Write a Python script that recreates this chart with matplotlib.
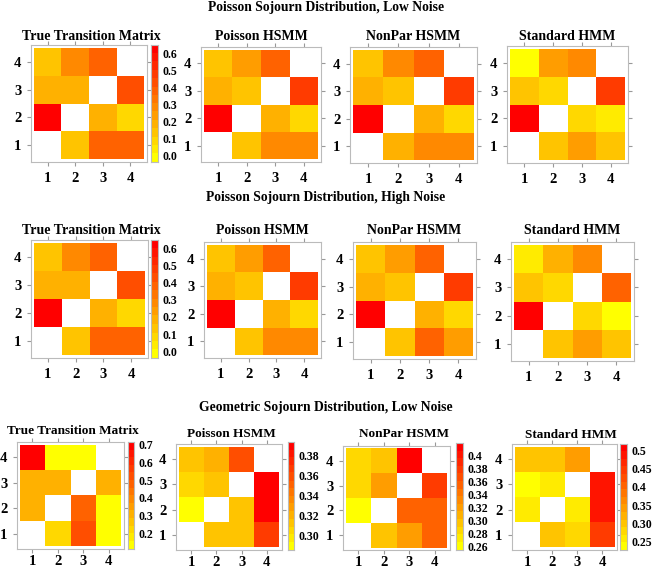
import numpy as np
import matplotlib
matplotlib.use("Agg")
import matplotlib.pyplot as plt
from matplotlib.colors import LinearSegmentedColormap, Normalize

plt.rcParams['font.family'] = ['Liberation Serif', 'DejaVu Serif']
plt.rcParams['font.weight'] = 'bold'

nan = np.nan
states = [1, 2, 3, 4]

# matrices: row index = y state (1..4 bottom to top), column = x state
true_pois = [[nan, 0.15, 0.36, 0.36],
             [0.61, nan, 0.20, 0.07],
             [0.19, 0.19, nan, 0.44],
             [0.13, 0.26, 0.39, nan]]
pois_low = [[nan, 0.12, 0.27, 0.27],
            [0.61, nan, 0.17, 0.06],
            [0.17, 0.11, nan, 0.48],
            [0.13, 0.22, 0.36, nan]]
nonpar_low = [[nan, 0.18, 0.27, 0.27],
              [0.63, nan, 0.18, 0.06],
              [0.18, 0.11, nan, 0.46],
              [0.13, 0.27, 0.36, nan]]
hmm_low = [[nan, 0.13, 0.25, 0.13],
           [0.63, nan, 0.06, 0.01],
           [0.11, 0.06, nan, 0.46],
           [0.00, 0.24, 0.27, nan]]
pois_high = [[nan, 0.12, 0.27, 0.27],
             [0.63, nan, 0.18, 0.06],
             [0.18, 0.11, nan, 0.48],
             [0.12, 0.22, 0.36, nan]]
nonpar_high = [[nan, 0.12, 0.36, 0.22],
               [0.63, nan, 0.18, 0.06],
               [0.18, 0.11, nan, 0.46],
               [0.13, 0.22, 0.36, nan]]
hmm_high = [[nan, 0.12, 0.25, 0.13],
            [0.63, nan, 0.06, 0.00],
            [0.13, 0.06, nan, 0.36],
            [0.01, 0.20, 0.27, nan]]
true_geom = [[nan, 0.23, 0.52, 0.15],
             [0.31, nan, 0.46, 0.15],
             [0.31, 0.31, nan, 0.31],
             [0.68, 0.15, 0.15, nan]]
pois_geom = [[nan, 0.310, 0.313, 0.366],
             [0.292, nan, 0.313, 0.390],
             [0.302, 0.313, nan, 0.390],
             [0.310, 0.319, 0.360, nan]]
nonpar_geom = [[nan, 0.291, 0.324, 0.350],
               [0.265, nan, 0.350, 0.360],
               [0.282, 0.317, nan, 0.380],
               [0.280, 0.296, 0.410, nan]]
hmm_geom = [[nan, 0.292, 0.280, 0.440],
            [0.260, nan, 0.252, 0.490],
            [0.248, 0.257, nan, 0.494],
            [0.300, 0.309, 0.338, nan]]

row_titles = ["Poisson Sojourn Distribution, Low Noise",
              "Poisson Sojourn Distribution, High Noise",
              "Geometric Sojourn Distribution, Low Noise"]
panel_titles = ["True Transition Matrix", "Poisson HSMM", "NonPar HSMM", "Standard HMM"]

W, H = 652, 570
fig = plt.figure(figsize=(W / 100, H / 100), dpi=100)
cmap = LinearSegmentedColormap.from_list('yr', ['#FFFF00', '#FF0000'], N=14)


def px(l, t, r, b):
    return [l / W, 1 - b / H, (r - l) / W, (b - t) / H]


def panel(box, mat, title, vmin, vmax, title_xy, pad=4, tsize=10):
    ax = fig.add_axes(px(*box))
    m = np.ma.masked_invalid(np.array(mat))
    edges = np.arange(0.5, 5.0, 1.0)
    ax.pcolormesh(edges, edges, m, cmap=cmap, norm=Normalize(vmin, vmax))
    ax.set_xlim(0.4, 4.6)
    ax.set_ylim(0.4, 4.6)
    ax.set_xticks(states)
    ax.set_yticks(states)
    ax.tick_params(direction='out', length=3, color='#999999', labelsize=10.5,
                   top=True, right=True, labeltop=False, labelright=False, pad=pad)
    ax.tick_params(axis='y', pad=4)
    for s in ax.spines.values():
        s.set_color('#BBBBBB')
    tx, ty = title_xy
    fig.text(tx / W, 1 - ty / H, title, ha='center', va='center',
             fontsize=tsize, fontweight='bold')
    return ax


def colorbar(box, vmin, vmax, ticks, labels):
    cax = fig.add_axes(px(*box))
    vals = np.linspace(vmin, vmax, 200)
    cax.pcolormesh([0, 1], vals, vals[:-1, None], cmap=cmap, norm=Normalize(vmin, vmax))
    cax.set_xlim(0, 1)
    cax.set_ylim(vmin, vmax)
    cax.set_xticks([])
    cax.yaxis.tick_right()
    cax.set_yticks(ticks)
    cax.set_yticklabels(labels)
    cax.tick_params(length=0, labelsize=8.5, pad=3)
    for s in cax.spines.values():
        s.set_color('#BBBBBB')


row1 = [true_pois, pois_low, nonpar_low, hmm_low]
row2 = [true_pois, pois_high, nonpar_high, hmm_high]
boxes1 = [(31, 45, 147, 162), (201, 47, 321, 162), (350, 47, 477, 163), (507, 46, 628, 163)]
boxes2 = [(31, 240, 148, 358), (204, 242, 321, 358), (353, 242, 476, 359), (511, 242, 634, 361)]
tick_a = [0.0, 0.1, 0.2, 0.3, 0.4, 0.5, 0.6]
lab_a = ["0.0", "0.1", "0.2", "0.3", "0.4", "0.5", "0.6"]

for mats, boxes, ty in [(row1, boxes1, 37), (row2, boxes2, 231)]:
    for mat, box, name in zip(mats, boxes, panel_titles):
        cx = (box[0] + box[2]) / 2
        if name.startswith("True"):
            cx = 91
        panel(box, mat, name, -0.04, 0.65, (cx, ty))
    colorbar((151, boxes[0][1], 158, boxes[0][3]), -0.04, 0.65, tick_a, lab_a)

row3 = [true_geom, pois_geom, nonpar_geom, hmm_geom]
boxes3 = [(17, 442, 124, 549), (176, 444, 282, 550), (343, 446, 450, 550), (512, 444, 617, 550)]
cbars3 = [(128, 442, 134, 549), (288, 442, 294, 550), (456, 443, 463, 550), (620, 444, 627, 550)]
ranges3 = [(0.11, 0.715), (0.286, 0.393), (0.255, 0.419), (0.228, 0.517)]
ticks3 = [[0.2, 0.3, 0.4, 0.5, 0.6, 0.7],
          [0.30, 0.32, 0.34, 0.36, 0.38],
          [0.26, 0.28, 0.30, 0.32, 0.34, 0.36, 0.38, 0.4],
          [0.25, 0.30, 0.35, 0.4, 0.45, 0.5]]
labels3 = [["0.2", "0.3", "0.4", "0.5", "0.6", "0.7"],
           ["0.30", "0.32", "0.34", "0.36", "0.38"],
           ["0.26", "0.28", "0.30", "0.32", "0.34", "0.36", "0.38", "0.4"],
           ["0.25", "0.30", "0.35", "0.4", "0.45", "0.5"]]
title_xy3 = [(73, 431), (231, 434), (404, 434), (571, 435)]
for mat, box, cb, (lo, hi), tk, lb, name, txy in zip(row3, boxes3, cbars3, ranges3,
                                                     ticks3, labels3, panel_titles, title_xy3):
    panel(box, mat, name, lo, hi, txy, pad=1, tsize=9.5)
    colorbar(cb, lo, hi, tk, lb)

for txt, y in zip(row_titles, [8, 198, 408]):
    fig.text(0.5, 1 - y / H, txt, ha='center', va='center', fontsize=9.8, fontweight='bold')

fig.savefig("out.png", dpi=100)
